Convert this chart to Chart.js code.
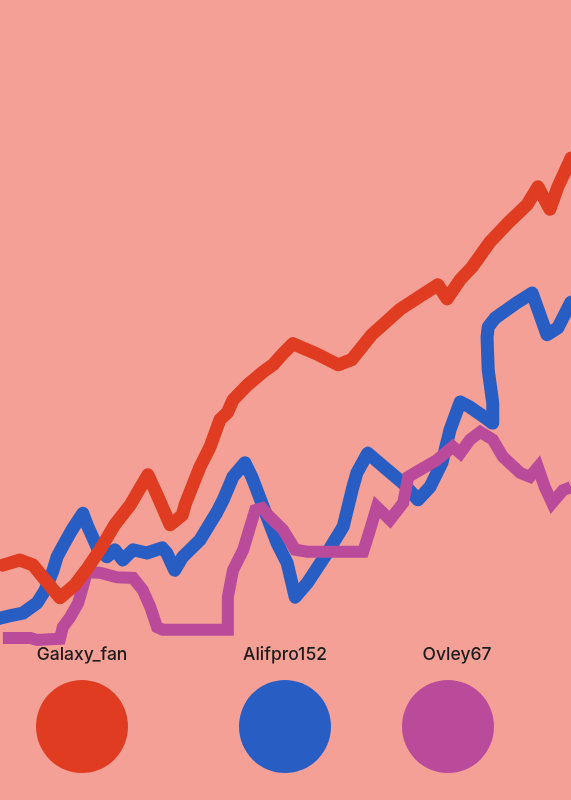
<!DOCTYPE html>
<html>
<head>
<meta charset="utf-8">
<script src="https://cdn.jsdelivr.net/npm/chart.js@4"></script>
<style>
  html, body { margin: 0; padding: 0; background: #F4A096; }
  #wrap { position: relative; width: 571px; height: 800px; overflow: hidden; }
  #c { position: absolute; left: 0; top: 0; }
  .lg-item { position: absolute; font-family: Inter, "DejaVu Sans", sans-serif; font-size: 17.5px; font-weight: 500; color: #1c1c1c; }
  .lg-label { position: absolute; top: 0; white-space: nowrap; transform: translateX(-50%); }
  .lg-dot { position: absolute; width: 92px; height: 93px; border-radius: 50%; transform: translateX(-50%); }
</style>
</head>
<body>
<div id="wrap">
  <canvas id="c" width="571" height="800"></canvas>
  <div id="legend"></div>
</div>
<script>
const seriesNames = ["Galaxy_fan", "Alifpro152", "Ovley67"];
const seriesColors = ["#E03C22", "#285DC4", "#BA4A9A"];

const galaxyX = [0.5,3.5,5.8,7.9,10.5,13.1,15.4,17.5,20.1,22.8,25.9,27.5,29.8,31.9,32.4,35.0,36.8,38.5,39.8,40.8,43.3,46.1,47.8,49.6,51.3,55.5,59.2,61.6,65.1,70.1,74.8,76.7,78.3,80.6,82.7,85.8,89.0,92.3,94.2,96.3,97.7,99.3,100];
const galaxyY = [11.7,12.5,11.7,9.4,6.6,8.6,11.3,14.1,18.0,21.1,25.8,22.7,18.0,19.5,21.1,27.0,30.2,34.4,35.5,37.5,39.8,41.9,43.0,44.8,46.3,44.7,43.0,43.8,47.7,51.7,54.4,55.5,53.3,56.3,58.3,62.2,65.2,68.0,70.8,67.3,70.8,73.9,75.3];

const alifX = [0,2.3,4.0,6.5,7.9,9.3,10.0,10.9,12.6,14.5,15.4,17.0,18.7,20.1,21.5,23.3,25.7,28.4,29.2,30.6,32.0,35.0,38.0,39.1,40.8,42.9,44.1,46.1,48.5,50.3,51.7,53.8,57.3,60.1,61.8,62.5,64.4,67.8,70.6,73.2,75.3,77.4,78.8,80.6,82.3,84.9,86.2,86.3,85.5,85.3,85.5,86.7,90.5,93.2,95.8,97.7,100];
const alifY = [3.4,3.9,4.2,5.8,7.8,10.9,13.0,14.5,17.2,19.8,17.7,14.5,13.0,14.1,12.5,14.1,13.6,14.4,13.6,10.9,13.0,15.6,20.0,21.9,25.5,27.7,25.5,20.8,15.2,12.0,6.7,8.9,13.6,17.7,23.9,26.1,29.2,26.6,24.5,21.9,23.9,27.7,32.8,37.2,36.4,34.8,33.9,37.0,42.2,47.3,48.9,50.3,52.7,54.2,47.7,48.8,52.8];

const ovleyX = [0.5,5.3,6.5,10.5,11.0,12.3,13.7,14.5,15.2,17.5,20.5,23.3,25.0,26.3,27.5,28.5,39.8,39.9,40.8,42.6,43.8,44.7,45.9,47.3,49.6,51.7,53.8,59.5,63.6,64.8,66.0,68.3,70.6,71.5,73.6,76.5,79.3,80.6,82.3,84.1,86.3,88.1,91.1,92.8,94.2,95.4,96.7,98.6,100];
const ovleyY = [0.3,0.3,0,0.2,2.0,3.6,5.8,8.3,10.6,10.5,9.8,9.7,7.8,5.2,2.0,1.6,1.6,6.7,10.9,14.1,17.7,20.3,20.6,19.2,17.2,14.1,13.8,13.8,13.8,17.2,20.8,18.8,21.4,25.5,26.6,28.1,30.2,29.2,31.3,32.5,31.3,28.6,26.1,25.5,27.0,23.9,21.4,23.4,23.9];

function pts(xs, ys) { return xs.map((x, i) => ({ x: x, y: ys[i] })); }

const bgPlugin = {
  id: 'bg',
  beforeDraw(chart) {
    const ctx = chart.ctx;
    ctx.save();
    ctx.fillStyle = '#F4A096';
    ctx.fillRect(0, 0, chart.width, chart.height);
    ctx.restore();
  }
};

const chart = new Chart(document.getElementById('c'), {
  type: 'line',
  data: {
    datasets: [
      { label: seriesNames[0], data: pts(galaxyX, galaxyY), borderColor: seriesColors[0], backgroundColor: seriesColors[0], borderWidth: 13, order: 0, borderCapStyle: 'round', borderJoinStyle: 'round' },
      { label: seriesNames[1], data: pts(alifX, alifY), borderColor: seriesColors[1], backgroundColor: seriesColors[1], borderWidth: 13, order: 2, borderCapStyle: 'round', borderJoinStyle: 'round' },
      { label: seriesNames[2], data: pts(ovleyX, ovleyY), borderColor: seriesColors[2], backgroundColor: seriesColors[2], borderWidth: 12, order: 1, borderCapStyle: 'butt', borderJoinStyle: 'miter' }
    ]
  },
  options: {
    responsive: false,
    animation: false,
    devicePixelRatio: 1,
    layout: { padding: { left: 0, right: 0, top: 0, bottom: 160 } },
    elements: { point: { radius: 0, hoverRadius: 0 }, line: { tension: 0 } },
    datasets: { line: { clip: false } },
    scales: {
      x: { type: 'linear', min: 0, max: 100, display: false },
      y: { type: 'linear', min: 0, max: 100, display: false }
    },
    plugins: { legend: { display: false }, tooltip: { enabled: false } }
  },
  plugins: [bgPlugin]
});

// HTML legend built from the datasets
const legendPos = [ { label: 82, dot: 82 }, { label: 285, dot: 285 }, { label: 457, dot: 448 } ];
const legend = document.getElementById('legend');
chart.data.datasets.forEach((ds, i) => {
  const item = document.createElement('div');
  item.className = 'lg-item';
  item.style.left = '0px';
  item.style.top = '643px';
  const lab = document.createElement('div');
  lab.className = 'lg-label';
  lab.style.left = legendPos[i].label + 'px';
  lab.textContent = ds.label;
  const dot = document.createElement('div');
  dot.className = 'lg-dot';
  dot.style.left = legendPos[i].dot + 'px';
  dot.style.top = '37px';
  dot.style.background = ds.borderColor;
  item.appendChild(lab);
  item.appendChild(dot);
  legend.appendChild(item);
});
</script>
</body>
</html>
